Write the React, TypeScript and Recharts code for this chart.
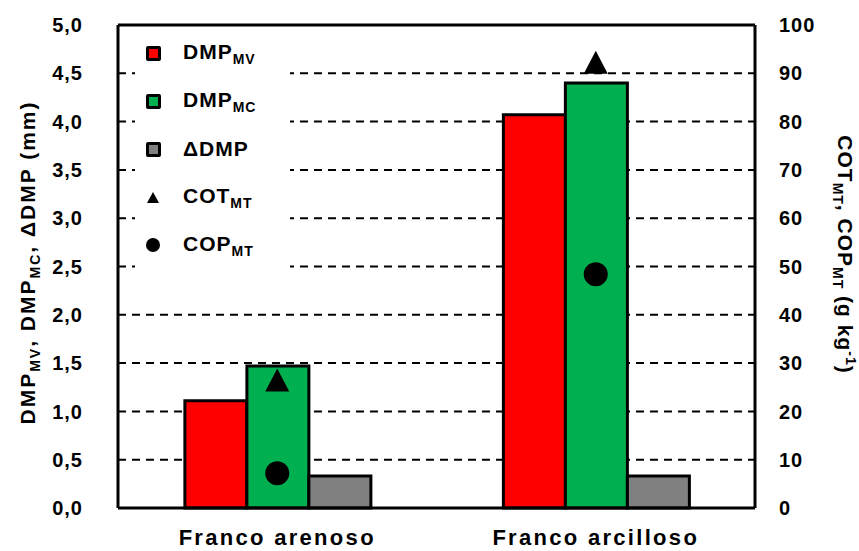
import {
  ComposedChart, Bar, Scatter, XAxis, YAxis, CartesianGrid,
  Legend, ReferenceLine, Label,
} from "recharts";

const categories = ["Franco arenoso", "Franco arcilloso"];
const dmpMV = [1.11, 4.07];
const dmpMC = [1.47, 4.4];
const deltaDMP = [0.33, 0.33];
const cotMT = [26.5, 92.3];
const copMT = [7.2, 48.4];

const leftTicks = [0, 0.5, 1, 1.5, 2, 2.5, 3, 3.5, 4, 4.5, 5];
const rightTicks = [0, 10, 20, 30, 40, 50, 60, 70, 80, 90, 100];

const data = categories.map((name, i) => ({
  name,
  mv: dmpMV[i],
  mc: dmpMC[i],
  delta: deltaDMP[i],
  cot: cotMT[i],
  cop: copMT[i],
}));

const FONT = "'Liberation Sans', Arial, sans-serif";
const tickStyle = { fontSize: 20, fontWeight: 700, fill: "#000", letterSpacing: 1 };

const Triangle = (p: any) => (
  <polygon
    points={`${p.cx},${p.cy - 11.5} ${p.cx - 12},${p.cy + 11.5} ${p.cx + 12},${p.cy + 11.5}`}
    fill="#000"
  />
);
const Dot = (p: any) => <circle cx={p.cx} cy={p.cy} r={12} fill="#000" />;

const LeftTitle = (props: any) => {
  const vb = props.viewBox;
  const x = vb.x + 35;
  const y = vb.y + vb.height / 2 - 4;
  return (
    <text x={x} y={y} transform={`rotate(-90, ${x}, ${y})`} textAnchor="middle"
      fontSize={21} fontWeight={700} fill="#000" letterSpacing={2}>
      DMP<tspan fontSize={14} dy={5}>MV</tspan>
      <tspan dy={-5}>, DMP</tspan><tspan fontSize={14} dy={5}>MC</tspan>
      <tspan dy={-5}>, ΔDMP (mm)</tspan>
    </text>
  );
};

const RightTitle = (props: any) => {
  const vb = props.viewBox;
  const x = vb.x + 83;
  const y = vb.y + vb.height / 2 - 12;
  return (
    <text x={x} y={y} transform={`rotate(90, ${x}, ${y})`} textAnchor="middle"
      fontSize={21} fontWeight={700} fill="#000" letterSpacing={1}>
      COT<tspan fontSize={14} dy={5}>MT</tspan>
      <tspan dy={-5}>, COP</tspan><tspan fontSize={14} dy={5}>MT</tspan>
      <tspan dy={-5}>{"  (g kg"}</tspan><tspan fontSize={14} dy={-8}>-1</tspan>
      <tspan dy={8}>)</tspan>
    </text>
  );
};

const square = (color: string) => (
  <div style={{ width: 9, height: 9, background: color, border: "3px solid #000", borderRadius: 2 }} />
);

const legendItems = [
  { marker: square("#FF0000"), main: "DMP", sub: "MV" },
  { marker: square("#00B050"), main: "DMP", sub: "MC" },
  { marker: square("#808080"), main: "ΔDMP", sub: "" },
  {
    marker: (
      <svg width={12} height={11}><polygon points="6,0 0,11 12,11" fill="#000" /></svg>
    ),
    main: "COT", sub: "MT",
  },
  {
    marker: <div style={{ width: 14, height: 14, borderRadius: 7, background: "#000" }} />,
    main: "COP", sub: "MT",
  },
];

const LegendBox = () => (
  <div style={{ background: "#fff", paddingBottom: 14, fontFamily: FONT }}>
    {legendItems.map((it, i) => (
      <div key={i} style={{ height: 48, display: "flex", alignItems: "center" }}>
        <div style={{ width: 36, display: "flex", justifyContent: "center" }}>{it.marker}</div>
        <div style={{ marginLeft: 12, fontSize: 21, fontWeight: 700, letterSpacing: 1, color: "#000" }}>
          {it.main}
          {it.sub && <sub style={{ fontSize: 14, verticalAlign: "-5px" }}>{it.sub}</sub>}
        </div>
      </div>
    ))}
  </div>
);

export default function App() {
  return (
    <div style={{ position: "absolute", left: 0, top: 0, fontFamily: FONT, background: "#fff" }}>
      <ComposedChart
        width={859}
        height={551}
        data={data}
        margin={{ top: 25, right: 0, bottom: 0, left: 0 }}
        barCategoryGap="21%"
        barGap={0}
      >
        <CartesianGrid
          yAxisId="left"
          vertical={false}
          stroke="#000"
          strokeWidth={2}
          strokeDasharray="8 6"
        />
        <XAxis
          dataKey="name"
          height={43}
          tickSize={0}
          tickMargin={21}
          axisLine={{ stroke: "#000", strokeWidth: 3 }}
          tick={{ fontSize: 22, fontWeight: 700, fill: "#000", letterSpacing: 2.3 }}
        />
        <YAxis
          yAxisId="left"
          width={118}
          domain={[0, 5]}
          ticks={leftTicks}
          interval={0}
          tickSize={0}
          tickMargin={35}
          tickFormatter={(v: number) => v.toFixed(1).replace(".", ",")}
          axisLine={{ stroke: "#000", strokeWidth: 3 }}
          tick={tickStyle}
        >
          <Label content={LeftTitle} />
        </YAxis>
        <YAxis
          yAxisId="right"
          orientation="right"
          width={104}
          domain={[0, 100]}
          ticks={rightTicks}
          interval={0}
          tickSize={0}
          tickMargin={24}
          axisLine={{ stroke: "#000", strokeWidth: 3 }}
          tick={{ ...tickStyle, textAnchor: "start" }}
        >
          <Label content={RightTitle} />
        </YAxis>
        <ReferenceLine yAxisId="left" y={5} stroke="#000" strokeWidth={3} />
        <Bar yAxisId="left" dataKey="mv" fill="#FF0000" stroke="#000" strokeWidth={3} isAnimationActive={false} />
        <Bar yAxisId="left" dataKey="mc" fill="#00B050" stroke="#000" strokeWidth={3} isAnimationActive={false} />
        <Bar yAxisId="left" dataKey="delta" fill="#808080" stroke="#000" strokeWidth={3} isAnimationActive={false} />
        <Scatter yAxisId="right" dataKey="cot" shape={Triangle} isAnimationActive={false} />
        <Scatter yAxisId="right" dataKey="cop" shape={Dot} isAnimationActive={false} />
        <Legend
          layout="vertical"
          align="center"
          verticalAlign="middle"
          content={LegendBox}
          wrapperStyle={{ position: "absolute", left: 135, top: 29, width: 155 }}
        />
      </ComposedChart>
    </div>
  );
}
